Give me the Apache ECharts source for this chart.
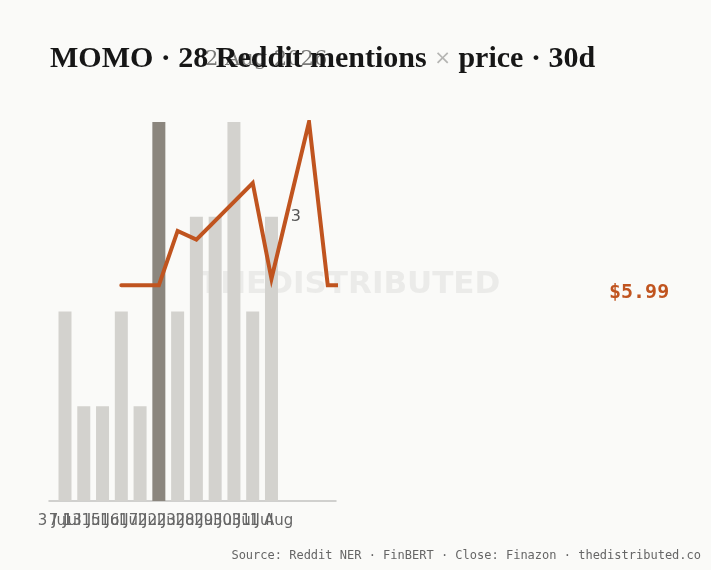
<!DOCTYPE html>
<html>
<head>
<meta charset="utf-8">
<title>MOMO mentions x price</title>
<script src="https://cdn.jsdelivr.net/npm/echarts@6/dist/echarts.min.js"></script>
<style>
    html, body { margin: 0; padding: 0; background: #fafaf8; }
    #main { width: 711px; height: 570px; }
</style>
</head>
<body>
<div id="main"></div>
<script>
// 每日提及次数（柱）
var barDates = ['7 Jul', '13 Jul', '15 Jul', '16 Jul', '17 Jul', '22 Jul', '23 Jul', '28 Jul', '29 Jul', '30 Jul', '31 Jul', '1 Aug'];
var mentions = [2, 1, 1, 2, 1, 4, 2, 3, 3, 4, 2, 3];
var peakIndex = 5;

// 收盘价（线），slot 与柱子的位置对应
var priceSlots = [3, 5, 6, 7, 10, 11, 13, 14, 15];
var priceClose = [5.99, 5.99, 6.24, 6.20, 6.46, 6.02, 6.74, 5.99, 5.99];

var firstLabel = '3 Jul';
var lastDate = '2 Aug 2026';
var mentionTicks = [0, 3, 4];
var priceRange = [5.0, 6.74];

// 布局
var slotW = 18.77;
var plotLeft = 49, plotRight = 336, plotTop = 122, plotBottom = 501;
var firstCenter = 65;

var chart = echarts.init(document.getElementById('main'));

var totalMentions = mentions.reduce(function (a, b) { return a + b }, 0);
var lastPrice = priceClose[priceClose.length - 1];

var barData = mentions.map(function (v, i) {
    return i == peakIndex ? { value: v, itemStyle: { color: '#8b867e' } } : v;
});
var lineData = priceSlots.map(function (s, i) {
    return [s, priceClose[i]];
});

var sans = 'DejaVu Sans';
var mono = 'DejaVu Sans Mono';

var option = {
    backgroundColor: '#fafaf8',
    animation: false,
    title: [
        {
            // 日期注释（在标题后面）
            text: lastDate,
            left: 205, top: 49, padding: 0,
            textStyle: { fontFamily: 'DejaVu Serif', fontWeight: 'normal', fontSize: 21, color: '#7a7a78' }
        },
        {
            text: 'MOMO · ' + totalMentions + ' Reddit mentions {x|×} price · 30d',
            left: 50, top: 44, padding: 0,
            textStyle: {
                fontFamily: 'Liberation Serif', fontWeight: 'bold', fontSize: 30, color: '#161616',
                rich: { x: { fontFamily: 'DejaVu Sans', fontWeight: 'normal', fontSize: 20, color: '#b5b5b3' } }
            }
        },
        {
            text: '$' + lastPrice.toFixed(2),
            left: 609, top: 283, padding: 0,
            textStyle: { fontFamily: mono, fontWeight: 'bold', fontSize: 20, color: '#c0541f' }
        },
        {
            text: 'Source: Reddit NER · FinBERT · Close: Finazon · thedistributed.co',
            right: 10, top: 550, padding: 0,
            textStyle: { fontFamily: mono, fontWeight: 'normal', fontSize: 12, color: '#666' }
        }
    ],
    graphic: [{
        type: 'text',
        left: 199, top: 269, z: -1,
        style: {
            text: 'THEDISTRIBUTED',
            font: 'bold 31px "DejaVu Sans"',
            fill: '#ebebe9'
        }
    }],
    grid: [
        {
            left: firstCenter - slotW / 2, top: plotTop,
            width: slotW * mentions.length, height: plotBottom - plotTop
        },
        {
            left: plotLeft, top: plotTop,
            width: plotRight - plotLeft, height: plotBottom - plotTop
        }
    ],
    xAxis: [
        {
            type: 'category', gridIndex: 0, data: barDates,
            axisLine: { show: false }, axisTick: { show: false },
            axisLabel: { interval: 0, margin: 13, color: '#666', fontFamily: sans, fontSize: 15 }
        },
        {
            type: 'value', gridIndex: 1,
            min: (plotLeft - firstCenter) / slotW,
            max: (plotRight - firstCenter) / slotW,
            splitLine: { show: false }, axisTick: { show: false },
            axisLine: { show: true, lineStyle: { color: '#c2c2c0', width: 1.5 } },
            axisLabel: {
                customValues: [(plotLeft - firstCenter) / slotW],
                formatter: function () { return firstLabel },
                margin: 13, padding: [0, 0, 0, 10],
                color: '#666', fontFamily: sans, fontSize: 15
            }
        }
    ],
    yAxis: [
        {
            type: 'value', gridIndex: 0, position: 'right',
            min: mentionTicks[0], max: mentionTicks[2], interval: mentionTicks[1],
            splitLine: { show: false }, axisLine: { show: false }, axisTick: { show: false },
            axisLabel: { showMinLabel: false, showMaxLabel: false, margin: 10, color: '#555', fontFamily: sans, fontSize: 16 }
        },
        {
            type: 'value', gridIndex: 1,
            min: priceRange[0], max: priceRange[1],
            show: false
        }
    ],
    series: [
        {
            name: 'mentions', type: 'bar',
            xAxisIndex: 0, yAxisIndex: 0,
            barWidth: 13,
            itemStyle: { color: '#d3d2ce' },
            data: barData
        },
        {
            name: 'close', type: 'line',
            xAxisIndex: 1, yAxisIndex: 1,
            showSymbol: false, symbol: 'none',
            lineStyle: { color: '#c0541f', width: 4, cap: 'round', join: 'miter' },
            data: lineData
        }
    ]
};

chart.setOption(option);
</script>
</body>
</html>
